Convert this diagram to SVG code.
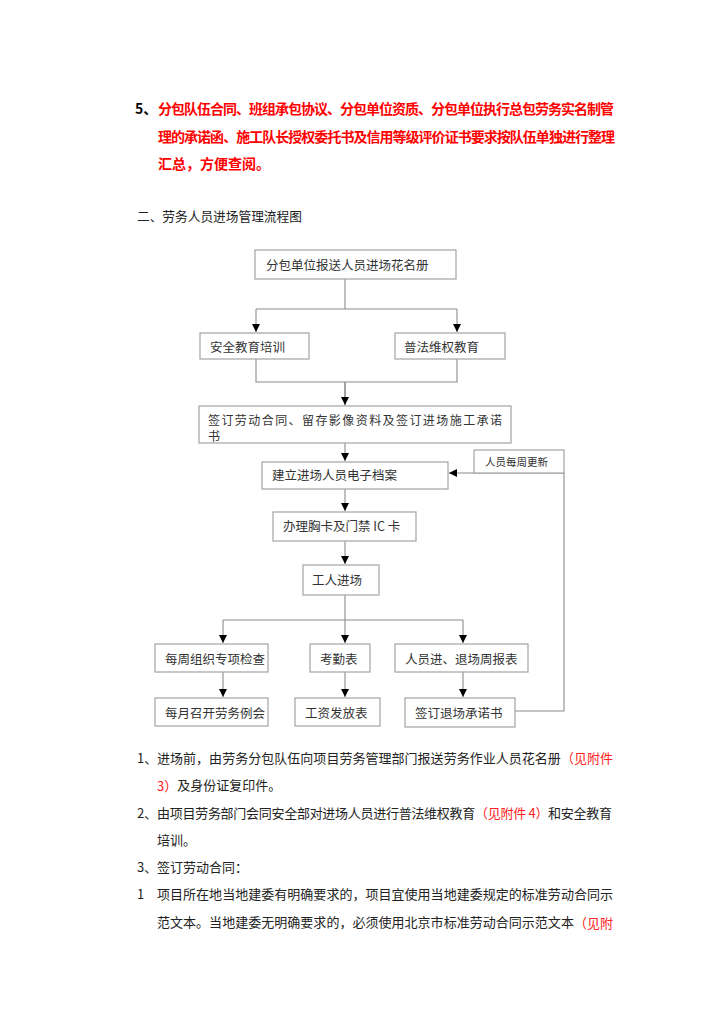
<svg xmlns="http://www.w3.org/2000/svg" width="724" height="1024" viewBox="0 0 724 1024">
<defs>
<style>
.bg{fill:#ffffff}
.box{fill:#ffffff;stroke:#a3a3a3;stroke-width:1.2}
.bt{font-family:"Noto Sans CJK SC","Liberation Sans",sans-serif;font-size:12.5px;fill:#333333;dominant-baseline:central}
.lt{font-family:"Noto Sans CJK SC","Liberation Sans",sans-serif;font-size:10.5px;fill:#333333;dominant-baseline:central}
.conn{fill:none;stroke:#8c8c8c;stroke-width:1.1}
.hd{font-family:"Noto Sans CJK SC","Liberation Sans",sans-serif;font-size:14px;font-weight:bold;fill:#ff0000;dominant-baseline:central}
.hdk{fill:#000000}
.body{font-family:"Noto Sans CJK SC","Liberation Sans",sans-serif;font-size:13px;fill:#222222;dominant-baseline:central}
.red{fill:#ff2020}
</style>
<marker id="ah" markerUnits="userSpaceOnUse" markerWidth="9" markerHeight="9" refX="8" refY="4" orient="auto">
<path d="M0,0 L8,4 L0,8 z" fill="#000000"/>
</marker>
</defs>
<rect class="bg" x="0" y="0" width="724" height="1024"/>

<g id="top-paragraph">
<text class="hd" x="135" y="108"><tspan class="hdk">5、</tspan></text>
<text class="hd" x="158" y="108" textLength="456" lengthAdjust="spacing">分包队伍合同、班组承包协议、分包单位资质、分包单位执行总包劳务实名制管</text>
<text class="hd" x="158" y="135.5" textLength="457" lengthAdjust="spacing">理的承诺函、施工队长授权委托书及信用等级评价证书要求按队伍单独进行整理</text>
<text class="hd" x="158" y="163">汇总，方便查阅。</text>
</g>

<g id="title">
<text class="body" x="137" y="215" style="font-size:12.7px">二、劳务人员进场管理流程图</text>
</g>

<g id="connectors">
<path class="conn" d="M345,279 V309 M256,309 H457"/>
<path class="conn" d="M256,309 V332" marker-end="url(#ah)"/>
<path class="conn" d="M457,309 V332" marker-end="url(#ah)"/>
<path class="conn" d="M256,359 V382 H457 V359 M345,382 V405"/>
<path class="conn" d="M345,382 V405" marker-end="url(#ah)"/>
<path class="conn" d="M345,443 V461" marker-end="url(#ah)"/>
<path class="conn" d="M515,711 H564 V473 H449" marker-end="url(#ah)"/>
<path class="conn" d="M345,489 V511" marker-end="url(#ah)"/>
<path class="conn" d="M345,541 V564" marker-end="url(#ah)"/>
<path class="conn" d="M345,595 V643" marker-end="url(#ah)"/>
<path class="conn" d="M223,620 H463"/>
<path class="conn" d="M223,620 V643" marker-end="url(#ah)"/>
<path class="conn" d="M463,620 V643" marker-end="url(#ah)"/>
<path class="conn" d="M223,672 V697" marker-end="url(#ah)"/>
<path class="conn" d="M345,672 V697" marker-end="url(#ah)"/>
<path class="conn" d="M463,672 V697" marker-end="url(#ah)"/>
</g>

<g id="n1">
<rect class="box" x="255" y="250" width="201" height="29"/>
<text class="bt" x="266" y="264">分包单位报送人员进场花名册</text>
</g>
<g id="n2">
<rect class="box" x="200" y="333" width="109" height="26"/>
<text class="bt" x="210" y="346">安全教育培训</text>
</g>
<g id="n3">
<rect class="box" x="395" y="333" width="110" height="26"/>
<text class="bt" x="404" y="346">普法维权教育</text>
</g>
<g id="n4">
<rect class="box" x="199" y="406" width="312" height="37"/>
<text class="bt" x="208" y="419" style="font-size:12px" textLength="294" lengthAdjust="spacing">签订劳动合同、留存影像资料及签订进场施工承诺</text>
<text class="bt" x="208" y="435" style="font-size:12px">书</text>
</g>
<g id="n5">
<rect class="box" x="262" y="462" width="186" height="27"/>
<text class="bt" x="272" y="474">建立进场人员电子档案</text>
</g>
<g id="label-weekly">
<rect class="box" x="474" y="450" width="90" height="23"/>
<text class="lt" x="485" y="461.5">人员每周更新</text>
</g>
<g id="n6">
<rect class="box" x="273" y="512" width="143" height="29"/>
<text class="bt" x="283" y="525">办理胸卡及门禁 IC 卡</text>
</g>
<g id="n7">
<rect class="box" x="303" y="565" width="76" height="30"/>
<text class="bt" x="312" y="579">工人进场</text>
</g>
<g id="n8">
<rect class="box" x="155" y="644" width="113" height="28"/>
<text class="bt" x="165" y="658">每周组织专项检查</text>
</g>
<g id="n9">
<rect class="box" x="310" y="644" width="60" height="28"/>
<text class="bt" x="320" y="658">考勤表</text>
</g>
<g id="n10">
<rect class="box" x="395" y="644" width="133" height="28"/>
<text class="bt" x="405" y="658">人员进、退场周报表</text>
</g>
<g id="n11">
<rect class="box" x="155" y="698" width="113" height="28"/>
<text class="bt" x="165" y="712">每月召开劳务例会</text>
</g>
<g id="n12">
<rect class="box" x="295" y="698" width="85" height="28"/>
<text class="bt" x="305" y="712">工资发放表</text>
</g>
<g id="n13">
<rect class="box" x="405" y="698" width="110" height="29"/>
<text class="bt" x="415" y="712">签订退场承诺书</text>
</g>

<g id="bottom-text">
<text class="body" x="137" y="757">1、</text>
<text class="body" x="157" y="757" textLength="456" lengthAdjust="spacing">进场前，由劳务分包队伍向项目劳务管理部门报送劳务作业人员花名册<tspan class="red">（见附件</tspan></text>
<text class="body" x="157" y="784.5"><tspan class="red">3）</tspan>及身份证复印件。</text>
<text class="body" x="137" y="812">2、</text>
<text class="body" x="157" y="812" textLength="455" lengthAdjust="spacing">由项目劳务部门会同安全部对进场人员进行普法维权教育<tspan class="red">（见附件 4）</tspan>和安全教育</text>
<text class="body" x="157" y="839.5">培训。</text>
<text class="body" x="137" y="866">3、</text>
<text class="body" x="157" y="866">签订劳动合同：</text>
<text class="body" x="137" y="893.5">1</text>
<text class="body" x="157" y="893.5" textLength="456" lengthAdjust="spacing">项目所在地当地建委有明确要求的，项目宜使用当地建委规定的标准劳动合同示</text>
<text class="body" x="157" y="921.5" textLength="456" lengthAdjust="spacing">范文本。当地建委无明确要求的，必须使用北京市标准劳动合同示范文本<tspan class="red">（见附</tspan></text>
</g>
</svg>
